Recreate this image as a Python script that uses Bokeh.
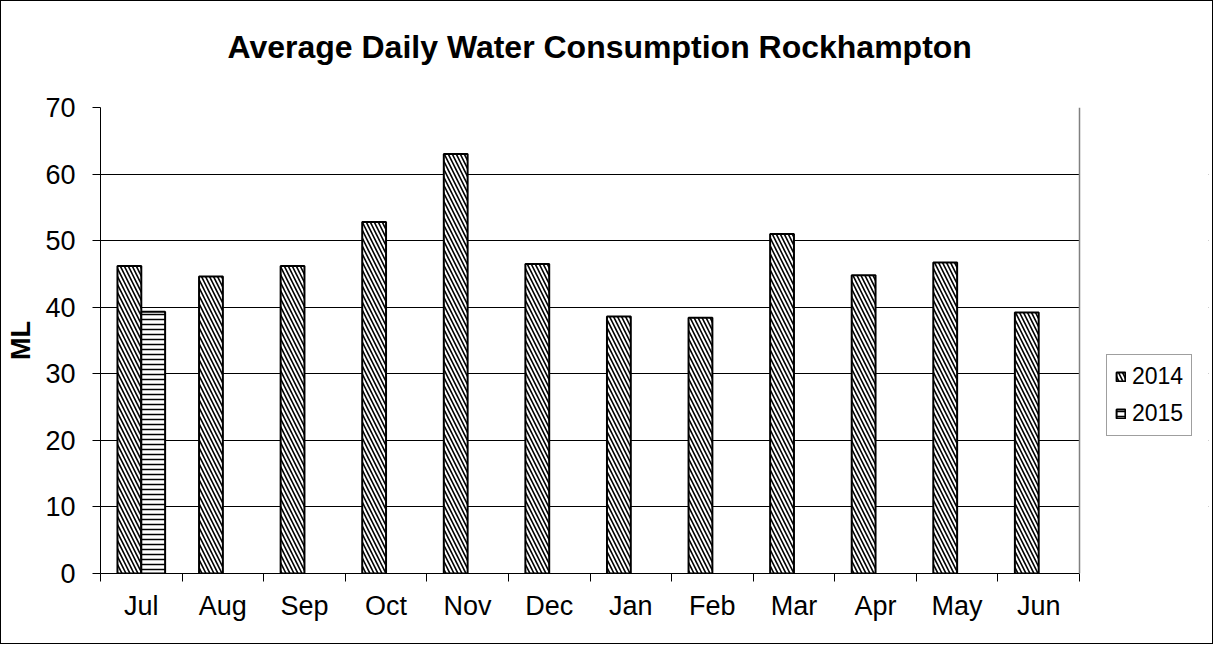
from bokeh.plotting import figure
from bokeh.models import (Range1d, FixedTicker, Legend, LegendItem, ColumnDataSource,
                          BoxAnnotation, Span, Grid, Title)
from bokeh.embed import file_html
from bokeh.resources import INLINE

title_text = "Average Daily Water Consumption Rockhampton"
months = ["Jul", "Aug", "Sep", "Oct", "Nov", "Dec", "Jan", "Feb", "Mar", "Apr", "May", "Jun"]
values_2014 = [46.2, 44.6, 46.2, 52.8, 63.0, 46.5, 38.6, 38.4, 51.0, 44.8, 46.7, 39.2]
values_2015 = [39.3, None, None, None, None, None, None, None, None, None, None, None]
y_ticks = [0, 10, 20, 30, 40, 50, 60, 70]

FONT = "Liberation Sans"
BAR_W = 0.292
N = len(months)
X_END = N * 1108 / 979  # extra room on the right of the plot area for the legend

x14 = [i + 0.5 - BAR_W / 2 for i in range(N)]
src14 = ColumnDataSource(dict(x=x14, top=values_2014))
x15 = [i + 0.5 + BAR_W / 2 for i, v in enumerate(values_2015) if v is not None]
t15 = [v for v in values_2015 if v is not None]
src15 = ColumnDataSource(dict(x=x15, top=t15))

p = figure(width=1213, height=644, output_backend="svg", toolbar_location=None,
           x_range=Range1d(0, X_END), y_range=Range1d(0, 70),
           min_border_left=99, min_border_right=6, min_border_top=106, min_border_bottom=72)

try:
    p.title = None
except Exception:
    p.title.text = ""
    p.title.standoff = 0
    p.title.text_font_size = "1px"

# spacer nearest the plot area, then the real title stacked above it
spacer = Title(text=" ", text_font_size="1px", standoff=14)
p.add_layout(spacer, "above")
main_title = Title(text=title_text, align="left", offset=127, text_font=FONT,
                   text_font_size="32px", text_font_style="bold", text_color="black",
                   standoff=51)
p.add_layout(main_title, "above")

p.outline_line_color = None
p.styles = {"border": "1px solid black", "box-sizing": "border-box"}

r14 = p.vbar(x="x", top="top", width=BAR_W, source=src14, fill_color="white",
             line_color="black", line_width=2, hatch_pattern="left_diagonal_line",
             hatch_color="black", hatch_scale=8, hatch_weight=1.6)
r15 = p.vbar(x="x", top="top", width=BAR_W, source=src15, fill_color="white",
             line_color="black", line_width=2, hatch_pattern="horizontal_line",
             hatch_color="black", hatch_scale=5, hatch_weight=1.5)

# x axis: labels at centres, tick marks at category boundaries
p.xaxis.ticker = FixedTicker(ticks=[i + 0.5 for i in range(N)],
                             minor_ticks=list(range(N + 1)))
p.xaxis.bounds = (0, N)
p.xaxis.major_label_overrides = {i + 0.5: m for i, m in enumerate(months)}
p.xaxis.major_tick_line_color = None
p.xaxis.major_tick_out = 0
p.xaxis.major_tick_in = 0
p.xaxis.minor_tick_line_color = "black"
p.xaxis.minor_tick_out = 8
p.xaxis.minor_tick_in = 0
p.xaxis.axis_line_color = "black"
p.xaxis.major_label_text_font = FONT
p.xaxis.major_label_text_font_size = "27px"
p.xaxis.major_label_text_color = "black"
p.xaxis.major_label_standoff = 9

p.yaxis.ticker = FixedTicker(ticks=y_ticks)
p.yaxis.major_tick_out = 8
p.yaxis.major_tick_in = 0
p.yaxis.major_tick_line_color = "black"
p.yaxis.minor_tick_line_color = None
p.yaxis.axis_line_color = "black"
p.yaxis.major_label_text_font = FONT
p.yaxis.major_label_text_font_size = "27px"
p.yaxis.major_label_text_color = "black"
p.yaxis.major_label_standoff = 17
p.yaxis.axis_label = "ML"
p.yaxis.axis_label_text_font = FONT
p.yaxis.axis_label_text_font_size = "27px"
p.yaxis.axis_label_text_font_style = "bold"
p.yaxis.axis_label_text_color = "black"
p.yaxis.axis_label_standoff = 6

p.xgrid.grid_line_color = None
p.ygrid.ticker = FixedTicker(ticks=y_ticks[1:-1])
p.ygrid.grid_line_color = "black"
p.ygrid.grid_line_width = 1
top_grid = Grid(dimension=1, ticker=FixedTicker(ticks=[y_ticks[-1]]),
                grid_line_color="#808080", grid_line_width=1.5)
p.add_layout(top_grid)

# blank the area right of the plot area, then draw the right edge of the plot area
p.add_layout(BoxAnnotation(left=N, fill_color="white", fill_alpha=1.0, line_color=None))
p.add_layout(Span(location=N, dimension="height", line_color="#808080", line_width=1.5))

legend = Legend(items=[LegendItem(label="2014", renderers=[r14]),
                       LegendItem(label="2015", renderers=[r15])],
                location=(1006, 137), orientation="vertical")
legend.margin = 0
legend.padding = 8
legend.spacing = 10
legend.label_height = 24
legend.glyph_height = 11
legend.glyph_width = 11
legend.label_standoff = 6
legend.label_text_font = FONT
legend.label_text_font_size = "23px"
legend.label_text_color = "black"
legend.border_line_color = "#404040"
legend.border_line_width = 1
legend.background_fill_color = "white"
p.add_layout(legend, "center")

open("out.html", "w").write(file_html(p, INLINE))
